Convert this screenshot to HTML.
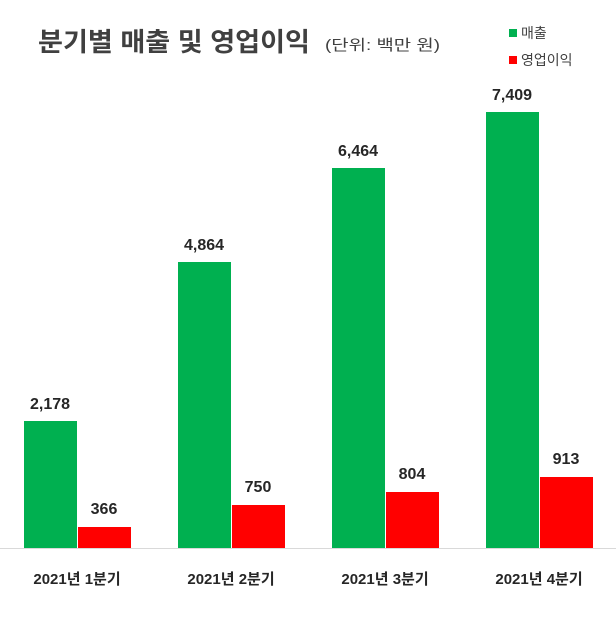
<!DOCTYPE html>
<html><head><meta charset="utf-8"><style>
body{margin:0;background:#fff;}
svg text{font-family:"Liberation Sans","Noto Sans CJK KR",sans-serif;}
</style></head><body>
<svg width="616" height="615" xmlns="http://www.w3.org/2000/svg">
<rect width="616" height="615" fill="#fff"/>
<text x="38" y="51" font-size="26" font-weight="bold" fill="#404040" textLength="272" lengthAdjust="spacingAndGlyphs">분기별 매출 및 영업이익</text>
<text x="325" y="50" font-size="15" fill="#404040" textLength="115" lengthAdjust="spacingAndGlyphs">(단위: 백만 원)</text>
<rect x="509" y="29" width="8" height="8" fill="#00b050"/>
<text x="521" y="38" font-size="14" fill="#404040">매출</text>
<rect x="509" y="56" width="8" height="8" fill="#ff0000"/>
<text x="521" y="65" font-size="14" fill="#404040">영업이익</text>
<g fill="#00b050">
<rect x="24" y="421" width="53" height="127"/>
<rect x="178" y="262" width="53" height="286"/>
<rect x="332" y="168" width="53" height="380"/>
<rect x="486" y="112" width="53" height="436"/>
</g>
<g fill="#ff0000">
<rect x="78" y="527" width="53" height="21"/>
<rect x="232" y="505" width="53" height="43"/>
<rect x="386" y="492" width="53" height="56"/>
<rect x="540" y="477" width="53" height="71"/>
</g>
<line x1="0" y1="548.5" x2="616" y2="548.5" stroke="#d9d9d9" stroke-width="1"/>
<g font-size="16" font-weight="bold" fill="#262626" text-anchor="middle">
<text x="50" y="409">2,178</text>
<text x="104" y="514">366</text>
<text x="204" y="250">4,864</text>
<text x="258" y="492">750</text>
<text x="358" y="156">6,464</text>
<text x="412" y="479">804</text>
<text x="512" y="100">7,409</text>
<text x="566" y="464">913</text>
</g>
<g font-size="15" font-weight="bold" fill="#262626" text-anchor="middle">
<text x="77" y="584">2021년 1분기</text>
<text x="231" y="584">2021년 2분기</text>
<text x="385" y="584">2021년 3분기</text>
<text x="539" y="584">2021년 4분기</text>
</g>
</svg>
</body></html>
